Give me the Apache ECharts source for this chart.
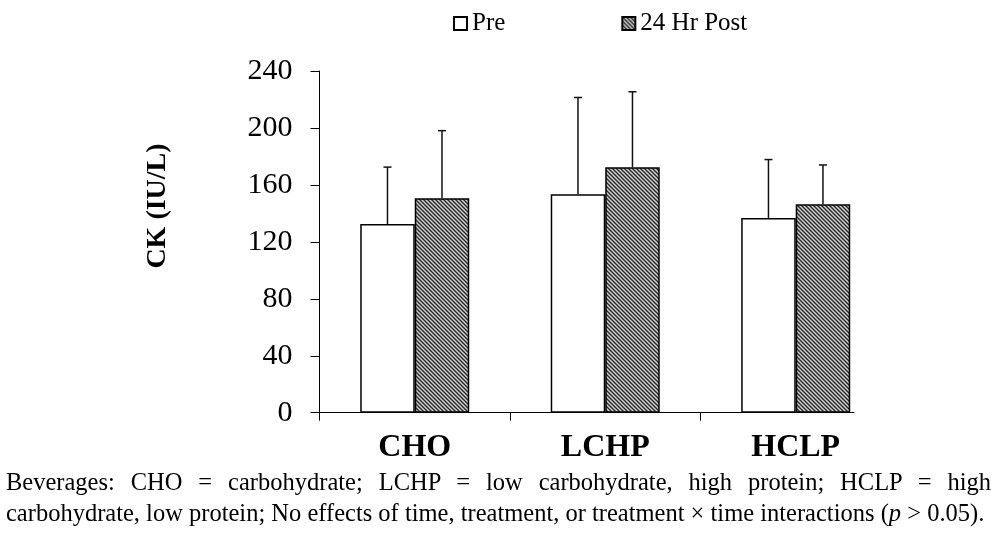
<!DOCTYPE html>
<html>
<head>
<meta charset="utf-8">
<script src="https://cdn.jsdelivr.net/npm/echarts@6/dist/echarts.min.js"></script>
<style>
  html, body { margin: 0; padding: 0; background: #fff; }
  #wrap { position: relative; width: 1000px; height: 537px; }
  #chart-container { position: absolute; left: 0; top: 0; width: 1000px; height: 537px; }
  .cap {
    position: absolute; left: 6px; width: 985px;
    font-family: "Liberation Serif", "Times New Roman", serif;
    font-size: 24.5px; line-height: 31px; color: #000; white-space: nowrap;
  }
  #cap1 { top: 466px; text-align: justify; text-align-last: justify; }
  #cap2 { top: 497px; }
</style>
</head>
<body>
<div id="wrap">
  <div id="chart-container"></div>
  <div class="cap" id="cap1">Beverages: CHO = carbohydrate; LCHP = low carbohydrate, high protein; HCLP = high</div>
  <div class="cap" id="cap2">carbohydrate, low protein; No effects of time, treatment, or treatment &times; time interactions (<i>p</i> &gt; 0.05).</div>
</div>
<script>
// beverages on the x axis
var categories = ["CHO", "LCHP", "HCLP"];
var seriesNames = ["Pre", "24 Hr Post"];
// CK means (IU/L)
var preMean = [132.5, 153.4, 136.8];
var postMean = [150.6, 172.4, 146.4];
// SD (upper error bar only)
var preSD = [40, 68, 41];
var postSD = [47.5, 53, 27.6];
var yTicks = [0, 40, 80, 120, 160, 200, 240];

var serif = '"Liberation Serif", "Times New Roman", serif';
var barW = 54.5;

// hatch fill for the post bars
function hatch() {
  var c = document.createElement("canvas");
  c.width = 4; c.height = 4;
  var g = c.getContext("2d");
  g.fillStyle = "#d0d0d0";
  g.fillRect(0, 0, 4, 4);
  g.strokeStyle = "#2a2a2a";
  g.lineWidth = 1.4;
  g.beginPath();
  g.moveTo(-1, -1); g.lineTo(5, 5);
  g.moveTo(-1, 3); g.lineTo(1, 5);
  g.moveTo(3, -1); g.lineTo(5, 1);
  g.stroke();
  return c;
}

function pts(vals) {
  return vals.map(function (v, i) { return [i, v]; });
}

var errData = [];
preMean.forEach(function (m, i) { errData.push([i, m, preSD[i], -1]); });
postMean.forEach(function (m, i) { errData.push([i, m, postSD[i], 1]); });

var dom = document.getElementById("chart-container");
var myChart = echarts.init(dom, null, { renderer: "canvas" });

var option = {
  animation: false,
  backgroundColor: "#fff",
  legend: {
    left: 448,
    top: 6,
    itemWidth: 13,
    itemHeight: 13,
    itemGap: 116,
    icon: "rect",
    textStyle: { fontFamily: serif, fontSize: 25, color: "#000" },
    data: seriesNames
  },
  grid: { left: 319.5, right: 146, top: 71, bottom: 124.3 },
  xAxis: {
    type: "value",
    min: -0.5,
    max: 2.306,
    axisLine: { onZero: false, lineStyle: { color: "#000", width: 1 } },
    axisTick: { customValues: [-0.5, 0.5, 1.5], length: 8, lineStyle: { color: "#000" } },
    axisLabel: {
      customValues: [0, 1, 2],
      formatter: function (v) { return categories[Math.round(v)]; },
      fontFamily: serif, fontWeight: "bold", fontSize: 32, color: "#000", margin: 19
    },
    splitLine: { show: false }
  },
  yAxis: {
    type: "value",
    min: 0,
    max: 240,
    interval: 40,
    axisLine: { show: true, onZero: false, lineStyle: { color: "#000", width: 1 } },
    axisTick: { show: true, length: 9, lineStyle: { color: "#000" } },
    axisLabel: { fontFamily: serif, fontSize: 30, color: "#000", margin: 27 },
    splitLine: { show: false }
  },
  graphic: [{
    type: "text",
    x: 158, y: 206,
    rotation: Math.PI / 2,
    style: {
      text: "CK (IU/L)", font: "bold 28px " + serif, fill: "#000",
      align: "center", verticalAlign: "middle"
    }
  }],
  series: [
    {
      name: seriesNames[0], type: "bar", barWidth: barW, barGap: "0%",
      itemStyle: { color: "#fff", borderColor: "#000", borderWidth: 1.5 },
      data: pts(preMean)
    },
    {
      name: seriesNames[1], type: "bar", barWidth: barW, barGap: "0%",
      itemStyle: { color: { image: hatch(), repeat: "repeat" }, borderColor: "#000", borderWidth: 1.5 },
      data: pts(postMean)
    },
    {
      type: "custom",
      z: 5,
      silent: true,
      data: errData,
      renderItem: function (params, api) {
        var x = api.value(0), m = api.value(1), sd = api.value(2), side = api.value(3);
        var b = api.coord([x, m]);
        var t = api.coord([x, m + sd]);
        var cx = b[0] + side * barW / 2;
        var st = { stroke: "#111", lineWidth: 1.5 };
        return {
          type: "group",
          children: [
            { type: "line", shape: { x1: cx, y1: b[1], x2: cx, y2: t[1] }, style: st },
            { type: "line", shape: { x1: cx - 4, y1: t[1], x2: cx + 4, y2: t[1] }, style: st }
          ]
        };
      }
    }
  ]
};

myChart.setOption(option);
window.addEventListener("resize", myChart.resize);
</script>
</body>
</html>
